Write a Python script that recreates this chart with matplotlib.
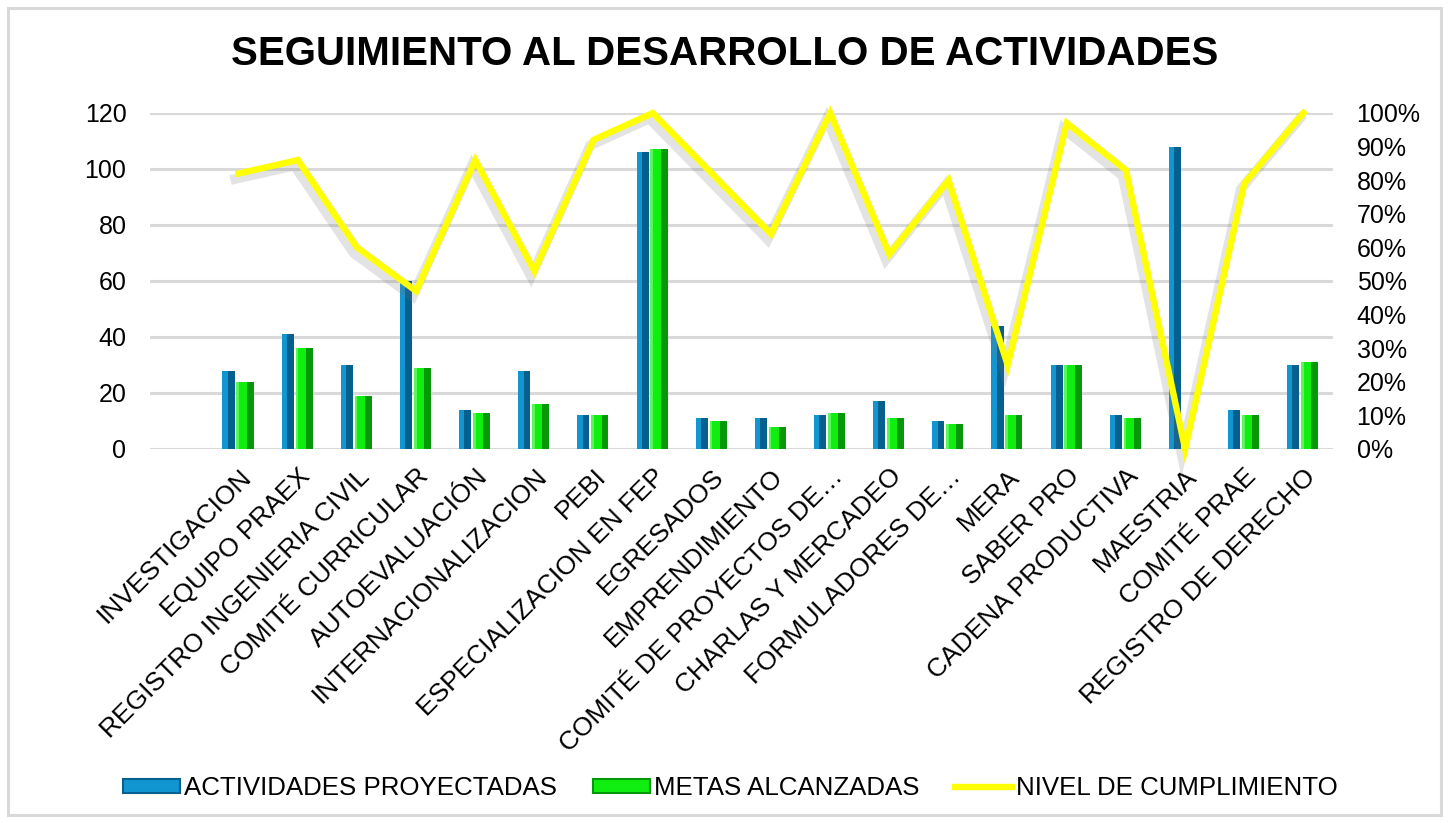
import matplotlib
matplotlib.use("Agg")
import matplotlib.pyplot as plt
import matplotlib.patheffects as pe
from matplotlib.patches import Patch, Rectangle
from matplotlib.lines import Line2D
from matplotlib.ticker import FuncFormatter
import numpy as np

plt.rcParams['font.family'] = ['Liberation Sans', 'DejaVu Sans']

title = "SEGUIMIENTO AL DESARROLLO DE ACTIVIDADES"
categories = ["INVESTIGACION", "EQUIPO PRAEX", "REGISTRO INGENIERIA CIVIL",
              "COMITÉ CURRICULAR", "AUTOEVALUACIÓN", "INTERNACIONALIZACION",
              "PEBI", "ESPECIALIZACION EN FEP", "EGRESADOS", "EMPRENDIMIENTO",
              "COMITÉ DE PROYECTOS DE…", "CHARLAS Y MERCADEO",
              "FORMULADORES DE…", "MERA", "SABER PRO", "CADENA PRODUCTIVA",
              "MAESTRIA", "COMITÉ PRAE", "REGISTRO DE DERECHO"]
proyectadas = [28, 41, 30, 60, 14, 28, 12, 106, 11, 11, 12, 17, 10, 44, 30, 12, 108, 14, 30]
alcanzadas = [24, 36, 19, 29, 13, 16, 12, 107, 10, 8, 13, 11, 9, 12, 30, 11, 0, 12, 31]
cumplimiento = [82, 86, 60, 47, 86, 53, 92, 100, 82, 64, 100, 58, 80, 25, 97, 83, 0, 79, 100]
left_ticks = [0, 20, 40, 60, 80, 100, 120]
right_ticks = [0, 10, 20, 30, 40, 50, 60, 70, 80, 90, 100]
legend_labels = ["ACTIVIDADES PROYECTADAS", "METAS ALCANZADAS", "NIVEL DE CUMPLIMIENTO"]

W, H = 1449, 823
fig = plt.figure(figsize=(W / 100, H / 100), dpi=100)
fig.patch.set_facecolor('white')

# outer frame
fig.patches.append(Rectangle((8 / W, 8 / H), (1441 - 8) / W, (815 - 8) / H,
                             transform=fig.transFigure, fill=False,
                             edgecolor='#d9d9d9', linewidth=2.2))

ax = fig.add_axes([150 / W, 1 - 449 / H, (1333 - 150) / W, (449 - 113) / H])
x = np.arange(len(categories))

blue_main, blue_dark = '#1296d2', '#06608e'
green_main, green_dark = '#10ee10', '#07980a'

bw, gw = 0.205, 0.29
bx = x - 0.275 + bw / 2
gx = x - 0.04 + gw / 2
ax.bar(bx, proyectadas, width=bw, color=blue_main, zorder=3, linewidth=0)
ax.bar(bx + bw * 0.22, proyectadas, width=bw * 0.56, color=blue_dark, zorder=3.1, linewidth=0)
ax.bar(gx, alcanzadas, width=gw, color=green_main, zorder=3, linewidth=0)
ax.bar(gx + gw * 0.3, alcanzadas, width=gw * 0.4, color=green_dark, zorder=3.1, linewidth=0)
ax.bar(gx - gw * 0.42, alcanzadas, width=gw * 0.16, color='#5af55a', zorder=3.1, linewidth=0)

ax.set_xlim(-1.5, len(categories) - 0.5)
ax.set_ylim(0, 120)
ax.set_yticks(left_ticks)
ax.yaxis.grid(True, color='#d9d9d9', linewidth=2.2, zorder=0)
ax.set_axisbelow(True)
for s in ax.spines.values():
    s.set_visible(False)
ax.tick_params(axis='y', length=0, pad=17, labelsize=18, labelcolor='black')
ax.set_xticks(x)
ax.set_xticklabels(categories, rotation=45, ha='right', rotation_mode='anchor',
                   fontsize=19)
ax.tick_params(axis='x', length=0, pad=11)

ax2 = ax.twinx()
ax2.set_ylim(0, 100)
ax2.set_yticks(right_ticks)
ax2.yaxis.set_major_formatter(FuncFormatter(lambda v, p: f"{int(v)}%"))
ax2.tick_params(axis='y', length=0, pad=17, labelsize=18, labelcolor='black')
for s in ax2.spines.values():
    s.set_visible(False)
ax2.plot(x, cumplimiento, color='#ffff00', linewidth=4.6, zorder=5, clip_on=False,
         solid_joinstyle='miter',
         path_effects=[pe.SimpleLineShadow(offset=(-2.5, -4), shadow_color='#777777',
                                           alpha=0.2, linewidth=7),
                       pe.Normal()])

fig.text(0.5, 1 - 54 / H, title, ha='center', va='center', fontsize=29,
         fontweight='bold', color='black')

handles = [Patch(facecolor=blue_main, edgecolor=blue_dark, linewidth=1.5),
           Patch(facecolor=green_main, edgecolor=green_dark, linewidth=1.5),
           Line2D([], [], color='#ffff00', linewidth=4.6)]
fig.legend(handles, legend_labels, loc='center', bbox_to_anchor=(0.504, 1 - 788 / H),
           ncol=3, frameon=False, fontsize=18.6, handlelength=2.2, handleheight=0.45,
           handletextpad=0.15, columnspacing=1.4)

fig.savefig('out.png', dpi=100)
